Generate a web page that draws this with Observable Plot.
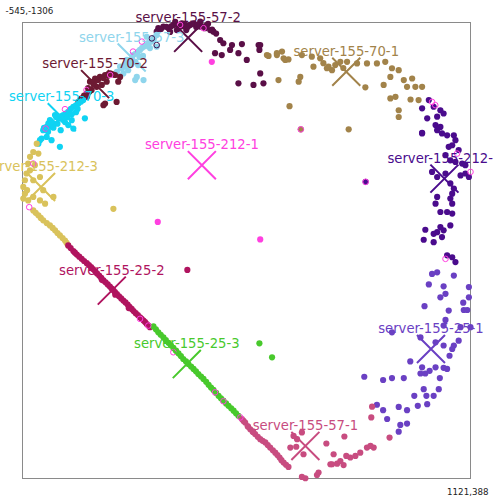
<!DOCTYPE html>
<html><head><meta charset="utf-8">
<script src="https://cdn.jsdelivr.net/npm/d3@7"></script>
<script src="https://cdn.jsdelivr.net/npm/@observablehq/plot@0.6"></script>
<style>body{margin:0;background:#fff;overflow:hidden} #chart{width:493px;height:500px}</style>
</head><body><div id="chart"></div>
<script>
const names = ["server-155-57-2","server-155-57-3","server-155-70-2","server-155-70-3","server-155-212-3","server-155-212-1","server-155-212-2","server-155-70-1","server-155-25-2","server-155-25-3","server-155-25-1","server-155-57-1"];
const colors = ["#5a0f47","#8fd5ec","#6d1a33","#0fd3f3","#d9c25b","#ff40e0","#4a0b8d","#a2834a","#b0145f","#48c92c","#6a40c3","#c84c80"];
const xDomain = [-545, 1121];
const yDomain = [-1306, 388];
const cornerLabels = ["-545,-1306", "1121,388"];

const s57_2 = [[-46,-1272],[-40,-1285],[-21,-1291],[-2,-1285],[16,-1297],[29,-1278],[41,-1291],[60,-1297],[78,-1297],[91,-1303],[47,-1303],[116,-1309],[116,-1291],[134,-1285],[153,-1278],[165,-1272],[190,-1241],[202,-1229],[234,-1222],[271,-1226],[171,-1192],[196,-1185],[227,-1204],[258,-1192],[289,-1167],[333,-1222],[339,-1222],[336,-1204],[339,-1117],[258,-1080],[314,-1074],[351,-1080],[4,-1271],[64,-1278],[101,-1289],[145,-1301],[23,-1308],[-30,-1282],[-10,-1290],[8,-1292],[35,-1285],[53,-1292],[70,-1290],[85,-1300],[105,-1298],[125,-1292],[140,-1295],[160,-1280],[175,-1265]];
const s57_3 = [[-182,-1142],[-157,-1167],[-133,-1185],[-108,-1204],[-83,-1222],[-64,-1241],[-46,-1260],[-126,-1092],[-95,-1092],[-120,-1104],[-194,-1123],[-83,-1253],[-145,-1167],[-170,-1117],[-157,-1142],[-58,-1241],[-46,-1216],[-115,-1148],[-97,-1182],[-71,-1211],[-152,-1129],[-175,-1135],[-165,-1150],[-150,-1160],[-138,-1172],[-125,-1190],[-115,-1198],[-100,-1212],[-90,-1218],[-76,-1228],[-66,-1235],[-55,-1250],[-140,-1150],[-125,-1160],[-110,-1178]];
const s70_2 = [[-294,-1086],[-275,-1098],[-257,-1104],[-238,-1111],[-219,-1117],[-201,-1111],[-182,-1104],[-189,-1086],[-269,-1067],[-288,-1055],[-306,-1043],[-325,-1024],[-337,-1011],[-244,-999],[-195,-1011],[-250,-1074],[-232,-1086],[-238,-1005],[-306,-1030],[-283,-1085],[-264,-1092],[-301,-1062],[-245,-1100],[-228,-1108],[-212,-1114],[-280,-1075],[-296,-1050],[-316,-1034],[-331,-1018]];
const s70_3 = [[-455,-918],[-431,-931],[-412,-950],[-393,-962],[-375,-974],[-356,-993],[-337,-1005],[-319,-1018],[-362,-943],[-313,-950],[-424,-962],[-443,-943],[-468,-906],[-443,-925],[-437,-869],[-406,-844],[-474,-875],[-486,-856],[-375,-925],[-356,-912],[-480,-869],[-455,-881],[-403,-906],[-387,-936],[-346,-973],[-465,-915],[-449,-930],[-437,-937],[-420,-955],[-400,-958],[-384,-968],[-365,-985],[-346,-998],[-328,-1012],[-450,-900],[-430,-915],[-415,-930],[-395,-945],[-378,-955],[-362,-965],[-340,-985]];
const s212_3 = [[-492,-856],[-505,-825],[-486,-819],[-517,-807],[-524,-782],[-530,-745],[-536,-720],[-542,-695],[-536,-670],[-542,-652],[-524,-645],[-505,-658],[-480,-645],[-461,-633],[-430,-658],[-468,-683],[-480,-732],[-505,-720],[-207,-614],[-505,-608],[-486,-590],[-468,-571],[-443,-552],[-424,-534],[-406,-515],[-387,-496],[-375,-478],[-517,-757],[-499,-776],[-528,-683],[-496,-599],[-477,-580],[-455,-561],[-433,-543],[-415,-524],[-396,-505],[-381,-487]];
const s212_1 = [[159,-1160],[-42,-565],[339,-500]];
const s212_2 = [[966,-1018],[984,-993],[1009,-980],[1021,-968],[941,-987],[960,-950],[997,-956],[991,-925],[1009,-918],[997,-906],[1015,-894],[1034,-887],[941,-896],[1059,-887],[1065,-869],[1053,-850],[1040,-844],[1028,-813],[1046,-794],[1065,-788],[1090,-782],[978,-751],[997,-732],[1028,-745],[1084,-738],[1102,-745],[1115,-732],[1046,-708],[1059,-689],[997,-658],[1053,-670],[1046,-652],[991,-633],[1053,-633],[1009,-602],[1034,-602],[1053,-596],[1046,-552],[1009,-546],[1021,-534],[997,-527],[953,-536],[984,-521],[1015,-509],[947,-499],[984,-490],[1034,-441],[1053,-434],[1065,-416],[1077,-832],[1102,-776],[941,-894],[731,-714]];
const s70_1 = [[370,-1182],[401,-1185],[420,-1198],[426,-1173],[444,-1169],[494,-1185],[531,-1179],[562,-1173],[537,-1142],[593,-1142],[606,-1129],[637,-1160],[662,-1160],[699,-1154],[736,-1154],[773,-1154],[804,-1160],[829,-1136],[854,-1129],[823,-1104],[873,-1092],[904,-1098],[885,-1067],[916,-1067],[941,-1067],[798,-1074],[730,-1065],[823,-1024],[842,-1030],[898,-1020],[928,-1018],[854,-980],[854,-955],[407,-1092],[488,-1104],[482,-1086],[448,-995],[587,-1136],[364,-1185],[401,-1192],[432,-1167],[668,-909],[618,-1148],[648,-1137],[574,-1155],[490,-909]];
const s25_2 = [[-375,-478],[-356,-457],[-343,-444],[-325,-428],[-306,-412],[-290,-397],[-275,-382],[-260,-366],[-244,-348],[-228,-333],[-213,-317],[-201,-304],[-186,-289],[-170,-273],[-154,-258],[-139,-242],[-124,-226],[-108,-211],[-95,-199],[-83,-186],[-71,-174],[68,-387],[-366,-468],[-350,-451],[-334,-436],[-316,-420],[-298,-405],[-283,-390],[-268,-374],[-252,-357],[-236,-341],[-220,-325],[-207,-311],[-194,-297],[-178,-281],[-162,-266],[-147,-250],[-132,-234],[-116,-219],[-102,-205],[-89,-193],[-77,-180],[-250,-350],[-200,-295],[-150,-245]];
const s25_3 = [[-58,-177],[-40,-155],[-21,-136],[-2,-116],[16,-97],[35,-77],[53,-56],[72,-37],[91,-19],[109,0],[128,18],[147,40],[165,59],[184,81],[202,99],[221,118],[240,136],[258,155],[336,-114],[383,-62],[-49,-166],[-31,-146],[-12,-126],[7,-107],[26,-87],[44,-67],[63,-47],[82,-28],[100,-10],[119,9],[138,29],[156,50],[175,70],[193,90],[212,109],[231,127],[249,146]];
const s25_1 = [[978,-372],[997,-378],[1059,-366],[966,-333],[1021,-326],[1115,-323],[1009,-285],[1028,-298],[1115,-285],[950,-252],[1040,-236],[1094,-265],[1096,-238],[1109,-238],[1028,-201],[1021,-180],[1084,-174],[1121,-174],[829,-155],[935,-136],[991,-118],[1021,-106],[1059,-106],[1077,-124],[1053,-93],[1043,-68],[897,-47],[941,-25],[969,-12],[991,-25],[1021,-23],[1034,-19],[935,-2],[953,-2],[1007,15],[726,10],[796,22],[829,15],[873,15],[947,56],[1003,56],[912,81],[957,81],[984,81],[925,118],[960,112],[773,114],[796,134],[854,122],[885,134],[811,167],[885,184],[860,189],[854,214]];
const s57_1 = [[271,167],[283,180],[302,205],[320,223],[339,242],[358,254],[376,273],[395,292],[411,310],[426,329],[444,345],[463,230],[494,217],[451,273],[473,270],[500,298],[476,242],[585,258],[652,232],[755,121],[752,161],[820,236],[749,267],[736,273],[761,273],[711,292],[693,304],[674,310],[659,304],[612,298],[606,335],[625,333],[637,323],[649,338],[600,335],[494,382],[507,387],[550,375],[556,366],[294,196],[313,215],[277,174],[292,193],[311,214],[330,233],[348,248],[367,264],[386,283],[403,301],[418,320],[435,337]];
const rings = [[-101,-1235],[41,-1297],[128,-1285],[-134,-1198],[-219,-1111],[-307,-1055],[-387,-984],[-459,-912],[-505,-782],[-520,-620],[978,-1011],[990,-999],[1071,-819],[1121,-751],[1028,-428],[-108,-205],[-77,-180],[16,-81],[171,68],[202,101],[265,161],[490,-909],[731,-714]];
const darkRings = [[-64,-1247],[-46,-1222]];
const centers = [["server-155-57-2",71,-1249],["server-155-57-3",-139,-1176],["server-155-70-2",-275,-1077],["server-155-70-3",-399,-954],["server-155-212-3",-476,-695],["server-155-212-1",122,-776],["server-155-212-2",1024,-726],["server-155-70-1",659,-1123],["server-155-25-2",-213,-310],["server-155-25-3",66,-37],["server-155-25-1",974,-93],["server-155-57-1",507,267]];

const clusters = [s57_2, s57_3, s70_2, s70_3, s212_3, s212_1, s212_2, s70_1, s25_2, s25_3, s25_1, s57_1];
const points = [];
names.forEach((n, i) => clusters[i].forEach(([x, y]) => points.push({name: n, x, y})));
const cent = centers.map(([name, x, y]) => ({name, x, y}));

const chart = Plot.plot({
  width: 493, height: 500,
  marginLeft: 22, marginRight: 23, marginTop: 22, marginBottom: 22,
  x: {domain: xDomain, axis: null},
  y: {domain: yDomain, reverse: true, axis: null},
  color: {domain: names, range: colors},
  style: {fontFamily: "DejaVu Sans", background: "white", overflow: "visible"},
  marks: [
    Plot.frame({stroke: "#8a8a8a"}),
    Plot.dot(points, {x: "x", y: "y", fill: "name", r: 3.1}),
    Plot.dot(rings, {x: d => d[0], y: d => d[1], stroke: "#ff40e0", r: 2.8, strokeWidth: 1}),
    Plot.dot(darkRings, {x: d => d[0], y: d => d[1], stroke: "#3a1050", r: 2.8, strokeWidth: 1}),
    Plot.dot(cent, {x: "x", y: "y", stroke: "name", symbol: "times", r: 12.8, strokeWidth: 2}),
    Plot.text(cent, {x: "x", y: "y", text: "name", fill: "name", dy: -20, fontSize: 13.2}),
    Plot.text([cornerLabels[0]], {frameAnchor: "top-left", text: d => d, dx: -17, dy: -14.5, textAnchor: "start", fontSize: 8.7, fill: "#222"}),
    Plot.text([cornerLabels[1]], {frameAnchor: "bottom-right", text: d => d, dx: 18, dy: 16.5, textAnchor: "end", fontSize: 8.7, fill: "#222"})
  ]
});
document.getElementById("chart").append(chart);
</script>
</body></html>
